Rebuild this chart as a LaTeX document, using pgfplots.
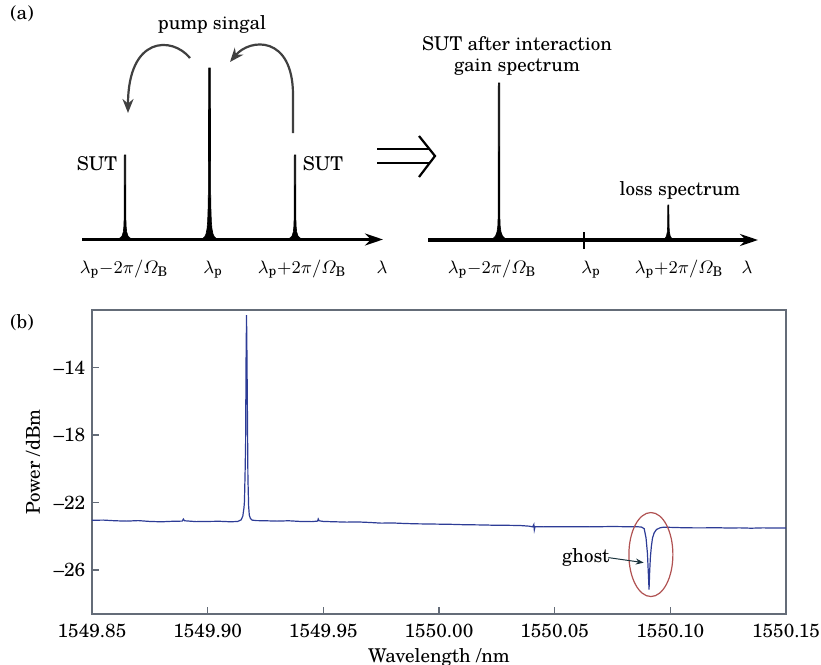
\documentclass[border=0pt]{standalone}
\usepackage{amsmath}
\usepackage{pgfplots}
\pgfplotsset{compat=1.18}
\usepackage{fontspec}
\setmainfont{texgyreschola}[Extension=.otf,UprightFont=*-regular,ItalicFont=*-italic,BoldFont=*-bold,BoldItalicFont=*-bolditalic]
\usetikzlibrary{arrows.meta}
\definecolor{trace}{RGB}{45,60,150}
\definecolor{frame}{RGB}{100,108,120}
\definecolor{ell}{RGB}{176,82,82}
\definecolor{arr}{RGB}{25,50,60}
\newcommand{\lp}{\lambda_{\mathrm{p}}}
\newcommand{\OB}{\varOmega_{\mathrm{B}}}
\begin{document}
\fontsize{9.5}{11}\selectfont
\begin{tikzpicture}[font=\fontsize{9.5}{11}\selectfont]
\useasboundingbox (0,0) rectangle (410.5pt,332.5pt);
% ---------------- panel (a) : schematic ----------------
\begin{axis}[at={(0pt,187.5pt)}, anchor=south west, scale only axis,
  width=410.5pt, height=145pt, xmin=0, xmax=821, ymin=0, ymax=290,
  y dir=reverse, hide axis, clip=false]
% axis lines with arrows
\draw[line width=1.6pt, -{Stealth[length=9pt,width=6pt]}] (axis cs:82,239.5) -- (axis cs:383,239.5);
\draw[line width=1.6pt, -{Stealth[length=9pt,width=6pt]}] (axis cs:428,240) -- (axis cs:758,240);
\draw[line width=1pt] (axis cs:584,232) -- (axis cs:584,249);
% peaks
\addplot[fill=black, draw=black, line width=0.3pt] coordinates {(117,239)(120,238)(122,236)(123.3,232)(123.9,226)(124.2,215)(124.3,155)(125.7,155)(125.8,215)(126.1,226)(126.7,232)(128,236)(130,238)(133,239)};
\addplot[fill=black, draw=black, line width=0.3pt] coordinates {(198,240)(202,239)(204.5,237)(206,234)(207,229)(207.6,222)(208,212)(208.3,195)(208.5,150)(208.6,68)(210.4,68)(210.5,150)(210.7,195)(211,212)(211.4,222)(212,229)(213,234)(214.5,237)(217,239)(221,240)};
\addplot[fill=black, draw=black, line width=0.3pt] coordinates {(287,239)(290,238)(292,236)(293.3,232)(293.9,226)(294.2,215)(294.3,155)(295.7,155)(295.8,215)(296.1,226)(296.7,232)(298,236)(300,238)(303,239)};
\addplot[fill=black, draw=black, line width=0.3pt] coordinates {(489,240)(493,238.5)(495.5,236)(497,232)(497.8,226)(498.2,215)(498.3,83)(499.7,83)(499.8,215)(500.2,226)(501,232)(502.5,236)(505,238.5)(509,240)};
\addplot[fill=black, draw=black, line width=0.3pt] coordinates {(662,240)(665,238.5)(666.5,236)(667.3,232)(667.7,225)(667.8,205)(668.9,205)(669,225)(669.4,232)(670.2,236)(671.7,238.5)(674.5,240)};
% curved arrows
\draw[line width=1.1pt, draw=black!75, -{Stealth[length=7pt,width=5.5pt]}] (axis cs:190,58) .. controls (axis cs:172,36) and (axis cs:128,36) .. (axis cs:128,113);
\draw[line width=1.1pt, draw=black!75, -{Stealth[length=7pt,width=5.5pt]}] (axis cs:293,133) -- (axis cs:293,95) .. controls (axis cs:293,35) and (axis cs:250,38) .. (axis cs:230,62);
% implies arrow
\draw[line width=1.1pt] (axis cs:377,149) -- (axis cs:429,149);
\draw[line width=1.1pt] (axis cs:377,163) -- (axis cs:429,163);
\draw[line width=1.1pt] (axis cs:419,136) -- (axis cs:435,156) -- (axis cs:419,177);
% texts
\node at (axis cs:22,14) {(a)};
\node[anchor=base] at (axis cs:212,30) {pump singal};
\node[anchor=base] at (axis cs:97,170) {SUT};
\node[anchor=base] at (axis cs:323,170) {SUT};
\node[anchor=base] at (axis cs:517,50) {SUT after interaction};
\node[anchor=base] at (axis cs:517,71) {gain spectrum};
\node[anchor=base] at (axis cs:680,195) {loss spectrum};
\node[anchor=base] at (axis cs:124,273) {$\lp{-}2\pi/\OB$};
\node[anchor=base] at (axis cs:213,273) {$\lp$};
\node[anchor=base] at (axis cs:302,273) {$\lp{+}2\pi/\OB$};
\node[anchor=base] at (axis cs:382,273) {$\lambda$};
\node[anchor=base] at (axis cs:492,273) {$\lp{-}2\pi/\OB$};
\node[anchor=base] at (axis cs:591,273) {$\lp$};
\node[anchor=base] at (axis cs:679,273) {$\lp{+}2\pi/\OB$};
\node[anchor=base] at (axis cs:747,273) {$\lambda$};
\end{axis}
% ---------------- panel (b) : measured spectrum ----------------
% x values are wavelength minus 1550 nm
\begin{axis}[at={(46pt,25.5pt)}, anchor=south west, scale only axis,
  width=347pt, height=152pt,
  xmin=-0.15, xmax=0.15, ymin=-28.6, ymax=-10.6,
  xtick={-0.15,-0.10,-0.05,0,0.05,0.10,0.15},
  xticklabels={1549.85,1549.90,1549.95,1550.00,1550.05,1550.10,1550.15},
  ytick={-26,-22,-18,-14},
  yticklabels={\textendash26,\textendash22,\textendash18,\textendash14},
  tick align=inside, xtick pos=left, ytick pos=left,
  major tick length=3.5pt,
  axis line style={frame, line width=0.6pt},
  every tick/.style={frame, line width=0.6pt},
  xticklabel style={yshift=-1.5pt},
  xlabel={Wavelength /nm}, ylabel={Power /dBm},
  every axis x label/.style={at={(axis description cs:0.5,0)}, anchor=center, yshift=-21.5pt},
  every axis y label/.style={at={(axis description cs:-0.085,0.5)}, anchor=center, rotate=90},
  clip=false]
\addplot[trace, line width=0.6pt] coordinates {
(-0.1500,-23.05)(-0.1450,-23.04)(-0.1400,-23.08)(-0.1350,-23.10)(-0.1300,-23.07)(-0.1250,-23.12)
(-0.1200,-23.14)(-0.1150,-23.11)(-0.1110,-23.10)(-0.1105,-22.98)(-0.1100,-23.08)(-0.1050,-23.13)
(-0.1000,-23.12)(-0.0950,-23.11)(-0.0900,-23.14)(-0.0870,-23.12)(-0.0855,-23.02)(-0.0848,-22.80)
(-0.0843,-22.30)(-0.0841,-21.95)(-0.0838,-20.10)(-0.0836,-18.5)(-0.0834,-13.6)(-0.0832,-10.9)
(-0.0830,-13.5)(-0.0828,-17.0)(-0.0826,-20.5)(-0.0823,-22.2)(-0.0820,-22.75)(-0.0815,-22.95)
(-0.0808,-23.04)(-0.0790,-23.07)(-0.0750,-23.08)(-0.0700,-23.10)(-0.0650,-23.08)(-0.0600,-23.12)
(-0.0550,-23.13)(-0.0525,-23.10)(-0.0522,-22.97)(-0.0518,-23.08)(-0.0500,-23.12)(-0.0450,-23.14)
(-0.0400,-23.16)(-0.0350,-23.15)(-0.0300,-23.18)(-0.0250,-23.22)(-0.0200,-23.21)(-0.0150,-23.24)
(-0.0100,-23.26)(-0.0050,-23.27)(0.0000,-23.28)(0.0050,-23.29)(0.0100,-23.31)(0.0150,-23.32)
(0.0200,-23.33)(0.0250,-23.35)(0.0300,-23.35)(0.0350,-23.36)(0.0390,-23.40)(0.0405,-23.44)
(0.0410,-23.30)(0.0412,-23.62)(0.0415,-23.43)(0.0450,-23.44)(0.0500,-23.43)(0.0550,-23.44)
(0.0600,-23.43)(0.0650,-23.44)(0.0700,-23.43)(0.0750,-23.42)(0.0800,-23.43)(0.0850,-23.43)
(0.0875,-23.45)(0.0887,-23.55)(0.0895,-24.1)(0.0901,-25.0)(0.0905,-26.2)(0.0908,-27.15)
(0.0911,-26.0)(0.0914,-25.2)(0.0918,-24.6)(0.0923,-24.1)(0.0930,-23.8)(0.0940,-23.6)
(0.0955,-23.5)(0.0970,-23.46)(0.1000,-23.47)(0.1050,-23.49)(0.1100,-23.50)(0.1150,-23.50)
(0.1200,-23.49)(0.1250,-23.51)(0.1300,-23.50)(0.1350,-23.52)(0.1400,-23.50)(0.1450,-23.51)
(0.1500,-23.51)};
\draw[ell, line width=0.6pt] (axis cs:0.0916,-25.08) ellipse [x radius=11pt, y radius=21pt];
\node[anchor=center] at (axis cs:0.0635,-25.26) {ghost};
\draw[arr, line width=0.5pt, -{Stealth[length=4pt,width=3pt]}] (axis cs:0.0732,-25.26) -- (axis cs:0.0885,-25.56);
\end{axis}
\node at (11pt,171pt) {(b)};
\end{tikzpicture}
\end{document}
